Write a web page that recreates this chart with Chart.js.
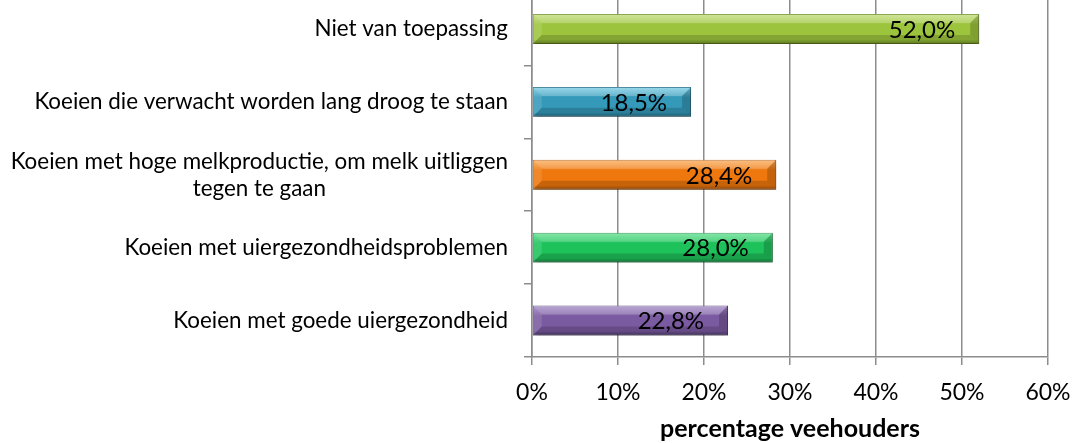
<!DOCTYPE html>
<html>
<head>
<meta charset="utf-8">
<script src="https://cdn.jsdelivr.net/npm/chart.js@4.4.1/dist/chart.umd.min.js"></script>
<style>
  html, body { margin: 0; padding: 0; background: #fff; overflow: hidden; }
  #wrap { position: absolute; left: 0; top: -8px; width: 1076px; height: 451px; }
</style>
</head>
<body>
<div id="wrap"><canvas id="myChart" width="1076" height="451"></canvas></div>
<script>
const categories = [
  'Niet van toepassing',
  'Koeien die verwacht worden lang droog te staan',
  ['Koeien met hoge melkproductie, om melk uitliggen', 'tegen te gaan'],
  'Koeien met uiergezondheidsproblemen',
  'Koeien met goede uiergezondheid'
];
const values = [52.0, 18.5, 28.4, 28.0, 22.8];
const tickValues = [0, 10, 20, 30, 40, 50, 60];

// base, light (top), dark (bottom/border)
const barColors = [
  ['#9cc43c', '#c4e07c', '#6f8f22'],
  ['#3599b9', '#7fcfe6', '#1f6c85'],
  ['#ee780e', '#fbad5c', '#b0560a'],
  ['#1ec25a', '#62e290', '#13883e'],
  ['#7a5aa0', '#a58cc8', '#4f3a6c']
];

const fontFamily = 'Lato, "Open Sans", sans-serif';
const gridColor = '#8c8c8c';
const barPct = 0.41;

function barGradient(context) {
  const chart = context.chart;
  const c = barColors[context.dataIndex];
  const yScale = chart.scales.y;
  if (!chart.chartArea || !yScale) return c[0];
  const cy = yScale.getPixelForValue(context.dataIndex);
  const h = (chart.chartArea.bottom - chart.chartArea.top) / categories.length * barPct;
  if (!Number.isFinite(cy) || !Number.isFinite(h)) return c[0];
  const top = cy - h / 2;
  const g = chart.ctx.createLinearGradient(0, top, 0, top + h);
  g.addColorStop(0, c[1]);
  g.addColorStop(0.35, c[0]);
  g.addColorStop(0.85, c[0]);
  g.addColorStop(1, c[2]);
  return g;
}

// shadow under bars
const shadowPlugin = {
  id: 'shadow',
  beforeDatasetsDraw(chart) {
    const ctx = chart.ctx;
    ctx.save();
    ctx.shadowColor = 'rgba(0,0,0,0.3)';
    ctx.shadowBlur = 5;
    ctx.shadowOffsetX = 1;
    ctx.shadowOffsetY = 4;
  },
  afterDatasetsDraw(chart) {
    chart.ctx.restore();
  }
};

// bevel facets on each bar + value labels near the end
const bevelAndLabels = {
  id: 'bevelAndLabels',
  afterDatasetsDraw(chart) {
    const ctx = chart.ctx;
    const meta = chart.getDatasetMeta(0);
    ctx.save();
    meta.data.forEach((bar) => {
      const x0 = bar.base, x1 = bar.x;
      const y0 = bar.y - bar.height / 2, y1 = bar.y + bar.height / 2;
      const b = 9;
      const poly = (pts, fill) => {
        ctx.beginPath();
        ctx.moveTo(pts[0][0], pts[0][1]);
        pts.slice(1).forEach(p => ctx.lineTo(p[0], p[1]));
        ctx.closePath();
        ctx.fillStyle = fill;
        ctx.fill();
      };
      poly([[x0, y0], [x1, y0], [x1 - b, y0 + b], [x0 + b, y0 + b]], 'rgba(255,255,255,0.22)');
      poly([[x0, y1], [x1, y1], [x1 - b, y1 - b], [x0 + b, y1 - b]], 'rgba(0,0,0,0.16)');
      poly([[x0, y0], [x0 + b, y0 + b], [x0 + b, y1 - b], [x0, y1]], 'rgba(255,255,255,0.12)');
      poly([[x1, y0], [x1 - b, y0 + b], [x1 - b, y1 - b], [x1, y1]], 'rgba(0,0,0,0.18)');
    });
    ctx.font = '24px ' + fontFamily;
    ctx.fillStyle = '#000';
    ctx.textAlign = 'right';
    ctx.textBaseline = 'middle';
    meta.data.forEach((bar, i) => {
      const txt = values[i].toFixed(1).replace('.', ',') + '%';
      ctx.fillText(txt, bar.x - 24, bar.y + 1);
    });
    ctx.restore();
  }
};

// category labels: block right-aligned, lines centred within block
const catLabels = {
  id: 'catLabels',
  afterDraw(chart) {
    const ctx = chart.ctx;
    const yScale = chart.scales.y;
    const right = yScale.right - 24;
    const lineH = 27;
    ctx.save();
    ctx.font = '22.4px ' + fontFamily;
    ctx.fillStyle = '#000';
    ctx.textAlign = 'center';
    ctx.textBaseline = 'middle';
    categories.forEach((lab, i) => {
      const lines = Array.isArray(lab) ? lab : [lab];
      const w = Math.max(...lines.map(l => ctx.measureText(l).width));
      const cx = right - w / 2;
      const cy = yScale.getPixelForValue(i);
      const y0 = cy - (lines.length - 1) * lineH / 2;
      lines.forEach((l, k) => ctx.fillText(l, cx, y0 + k * lineH));
    });
    ctx.restore();
  }
};

const ctx = document.getElementById('myChart').getContext('2d');
new Chart(ctx, {
  type: 'bar',
  data: {
    labels: categories,
    datasets: [{
      data: values,
      backgroundColor: barGradient,
      borderColor: (c) => barColors[c.dataIndex][2],
      borderWidth: 1,
      borderSkipped: false,
      categoryPercentage: 1,
      barPercentage: barPct
    }]
  },
  options: {
    indexAxis: 'y',
    responsive: false,
    animation: false,
    layout: { padding: { top: 0, right: 28, bottom: 0, left: 0 } },
    plugins: {
      legend: { display: false },
      tooltip: { enabled: false }
    },
    scales: {
      x: {
        min: 0,
        max: 60,
        afterBuildTicks: (scale) => { scale.ticks = tickValues.map(v => ({ value: v })); },
        afterFit: (scale) => {
          scale.height = 86;
          scale.paddingLeft = 0;
          scale.paddingRight = 0;
        },
        ticks: {
          callback: (v) => v + '%',
          color: '#000',
          font: { family: fontFamily, size: 23 },
          padding: 14,
          maxRotation: 0
        },
        grid: { color: gridColor, lineWidth: 1.5, tickLength: 8 },
        border: { color: gridColor, width: 1.5 },
        title: {
          display: true,
          text: 'percentage veehouders',
          color: '#000',
          font: { family: fontFamily, size: 25, weight: 'bold' },
          padding: { top: 0, bottom: -1 }
        }
      },
      y: {
        afterFit: (scale) => { scale.width = 532; },
        ticks: { color: 'rgba(0,0,0,0)', font: { family: fontFamily, size: 1 }, padding: 0 },
        grid: { offset: true, drawOnChartArea: false, color: gridColor, lineWidth: 1.5, tickLength: 8 },
        border: { color: gridColor, width: 1.5 }
      }
    }
  },
  plugins: [shadowPlugin, bevelAndLabels, catLabels]
});
</script>
</body>
</html>
